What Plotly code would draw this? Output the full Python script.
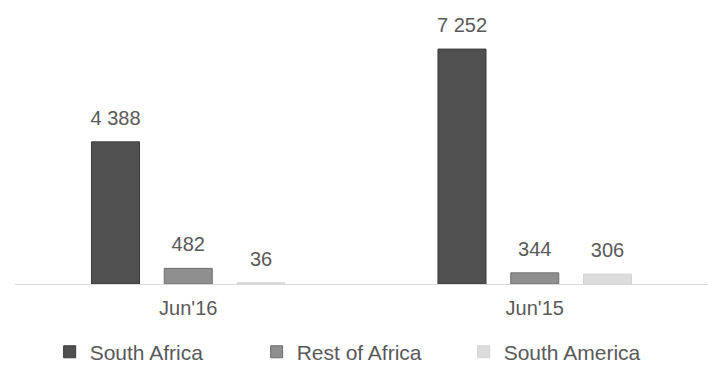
import plotly.graph_objects as go

categories = ["Jun'16", "Jun'15"]
series_names = ["South Africa", "Rest of Africa", "South America"]
south_africa = [4388, 7252]
rest_of_africa = [482, 344]
south_america = [36, 306]
values = [south_africa, rest_of_africa, south_america]

colors = ["#505050", "#8f8f8f", "#dcdcdc"]
line_colors = ["#3a3a3a", "#6e6e6e", "#d4d4d4"]
FONT = "Liberation Sans, Arial"

def fmt(v):
    return f"{v:,}".replace(",", " ")

fig = go.Figure()
for name, vals, c, lc in zip(series_names, values, colors, line_colors):
    fig.add_trace(go.Bar(
        x=categories, y=vals, name=name,
        marker=dict(color=c, line=dict(color=lc, width=1)),
        showlegend=True,
    ))
for name, vals in zip(series_names, values):
    fig.add_trace(go.Scatter(
        x=categories, y=vals, mode="markers+text",
        marker=dict(size=18, opacity=0),
        text=[fmt(v) for v in vals], textposition="top center",
        textfont=dict(color="#595959", size=20, family=FONT),
        cliponaxis=False, showlegend=False, hoverinfo="skip",
    ))

fig.update_layout(
    width=717, height=368,
    margin=dict(l=15, r=9, t=20, b=84, autoexpand=False),
    paper_bgcolor="white", plot_bgcolor="white",
    barmode="group", bargap=0.37, bargroupgap=0.34,
    scattermode="group", scattergap=0.37,
    font=dict(family=FONT, color="#595959", size=20),
    xaxis=dict(showline=True, linecolor="#d9d9d9", linewidth=1, ticks="",
               tickfont=dict(size=20, color="#595959"), ticklabelstandoff=6,
               automargin=False),
    yaxis=dict(visible=False, range=[0, 8150], automargin=False),
    legend=dict(orientation="h", x=0.05, xanchor="left", y=-0.258, yanchor="middle",
                font=dict(size=21, color="#595959"), itemwidth=30,
                entrywidth=162, entrywidthmode="pixels"),
)

fig.write_html("out.html", config={"displayModeBar": False},
               post_script="document.body.style.margin='0';")
